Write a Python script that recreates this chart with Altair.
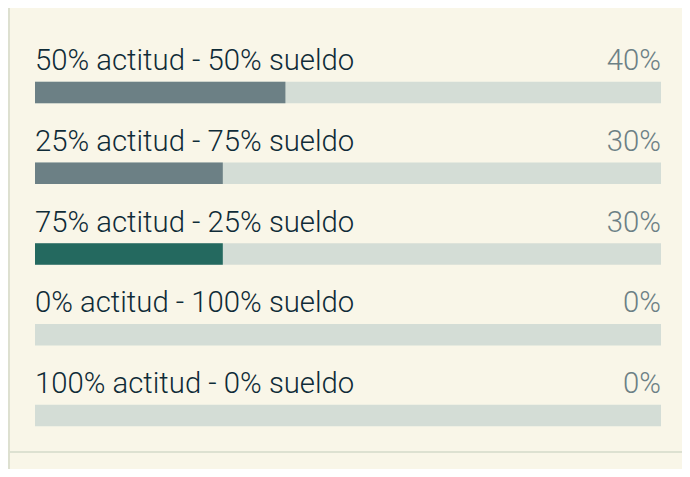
import pandas as pd
import altair as alt

# answer options, in display order, and their share of votes (%)
options = [
    "50% actitud - 50% sueldo",
    "25% actitud - 75% sueldo",
    "75% actitud - 25% sueldo",
    "0% actitud - 100% sueldo",
    "100% actitud - 0% sueldo",
]
shares = [40, 30, 30, 0, 0]
chosen = "75% actitud - 25% sueldo"

df = pd.DataFrame({"option": options, "share": shares})

BG = "#f9f6e8"
TRACK = "#d4ddd6"
GREY = "#6c8085"
TEAL = "#24695f"
INK = "#0f2b37"
FRAME = "#dde0d0"

x_scale = alt.Scale(domain=[0, 100], range=[27, 653])
y_scale = alt.Scale(type="point", domain=options, range=[84.5, 407.5], padding=0)

base = alt.Chart(df).encode(
    y=alt.Y("option:N", scale=y_scale, axis=None),
)

# full-width track behind every bar
track = base.transform_calculate(full="100").mark_bar(
    height=21.5, color=TRACK
).encode(x=alt.X("full:Q", scale=x_scale, axis=None))

bars = base.mark_bar(height=21.5).encode(
    x=alt.X("share:Q", scale=x_scale, axis=None),
    color=alt.condition(
        alt.datum.option == chosen, alt.value(TEAL), alt.value(GREY)
    ),
)

labels = base.mark_text(
    align="left", baseline="alphabetic", dy=-22.5,
    font="Roboto", fontWeight=300, fontSize=29.3, color=INK,
).encode(x=alt.datum(0, scale=x_scale), text="option:N")

pct = base.transform_calculate(
    txt="datum.share + '%'"
).mark_text(
    align="right", baseline="alphabetic", dy=-22.5,
    font="Roboto", fontWeight=300, fontSize=29.3, color=GREY,
).encode(x=alt.datum(100, scale=x_scale), text="txt:N")

# card frame: left edge and the divider under the card
left_edge = alt.Chart(df).mark_rule(color=FRAME, strokeWidth=1.5).encode(
    x=alt.value(0.75), y=alt.value(0), y2=alt.value(461)
)
divider = alt.Chart(df).mark_rule(color=FRAME, strokeWidth=1.5).encode(
    x=alt.value(0), x2=alt.value(674), y=alt.value(444)
)

chart = (
    alt.layer(track, bars, labels, pct, left_edge, divider)
    .properties(width=674, height=461, padding=0,
                autosize=alt.AutoSizeParams(type="none"), background=BG)
    .configure_view(stroke=None)
)

chart.save("out.html", embed_options={"renderer": "svg", "actions": False})
